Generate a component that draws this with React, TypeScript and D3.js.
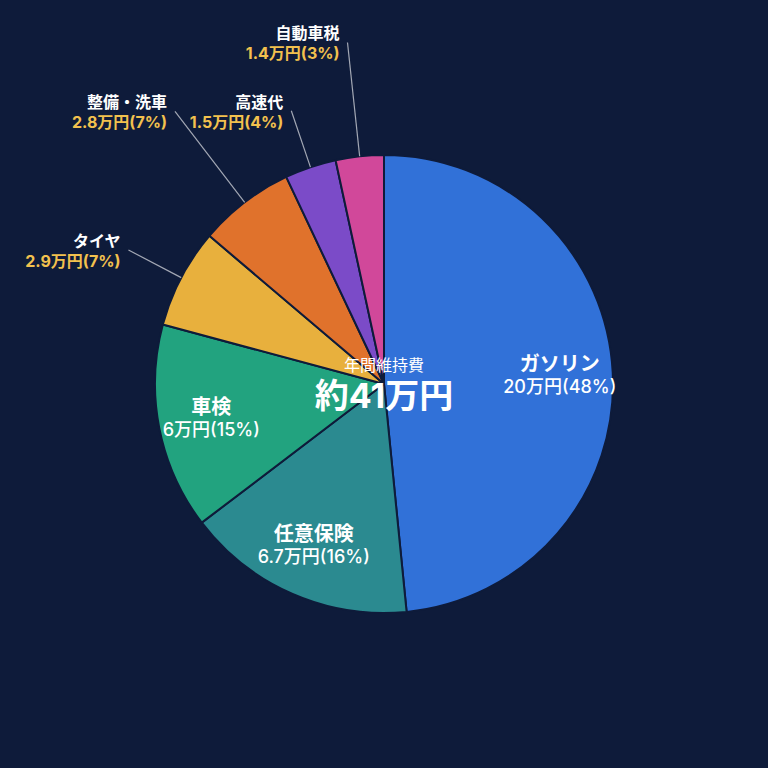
import { useMemo } from "react";
import * as d3 from "d3";

const categories = ["ガソリン", "任意保険", "車検", "タイヤ", "整備・洗車", "高速代", "自動車税"];
const values = [20, 6.7, 6, 2.9, 2.8, 1.5, 1.4];
const valueLabels = ["20万円", "6.7万円", "6万円", "2.9万円", "2.8万円", "1.5万円", "1.4万円"];
const percents = [48, 16, 15, 7, 7, 4, 3];
const colors = ["#3171d8", "#2b8a90", "#22a37f", "#e8b03d", "#e0722c", "#7b4bc8", "#d1489a"];
const totalLabel = "約41万円";
const centerTitle = "年間維持費";

const width = 768;
const height = 768;
const cx = 384;
const cy = 384;
const radius = 229;
const bg = "#0e1b3a";
const font = "Inter, 'Noto Sans CJK JP', sans-serif";

type Slice = { name: string; value: number; label: string; pct: number; color: string; i: number };

export default function App() {
    const data: Slice[] = categories.map((name, i) => ({
        name,
        value: values[i],
        label: valueLabels[i],
        pct: percents[i],
        color: colors[i],
        i,
    }));

    const arcs = useMemo(() => {
        return d3.pie<Slice>().sort(null).value((d) => d.value)(data);
    }, []);

    const arcGen = d3.arc<d3.PieArcDatum<Slice>>().innerRadius(0).outerRadius(radius);

    // big slices get labels inside, small ones outside with leader lines
    const shapes = arcs.map((a, k) => (
        <path key={k} d={arcGen(a) || ""} fill={a.data.color} stroke={bg} strokeWidth={2} strokeLinejoin="round" />
    ));

    const labels = arcs.map((a, k) => {
        const mid = (a.startAngle + a.endAngle) / 2;
        const sx = Math.sin(mid);
        const sy = -Math.cos(mid);
        if (a.data.pct >= 10) {
            const r = 176;
            const x = sx * r;
            const y = sy * r;
            return (
                <g key={k}>
                    <text x={x} y={y - 4} textAnchor="middle" fill="#ffffff" fontSize={20} fontWeight="bold" fontFamily={font}>
                        {a.data.name}
                    </text>
                    <text x={x} y={y + 18} textAnchor="middle" fill="#ffffff" fontSize={18} fontWeight={500} fontFamily={font}>
                        {a.data.label}({a.data.pct}%)
                    </text>
                </g>
            );
        }
        const rOut = a.data.i % 2 === 1 ? radius * 1.26 : radius * 1.5;
        const x0 = sx * radius;
        const y0 = sy * radius;
        const x1 = sx * rOut;
        const y1 = sy * rOut;
        return (
            <g key={k}>
                <line x1={x0} y1={y0} x2={x1} y2={y1} stroke="#a3a8b4" strokeWidth={1.2} />
                <text x={x1 - 8} y={y1 - 3} textAnchor="end" fill="#ffffff" fontSize={16} fontWeight="bold" fontFamily={font}>
                    {a.data.name}
                </text>
                <text x={x1 - 8} y={y1 + 17} textAnchor="end" fill="#f2c14e" fontSize={16} fontWeight="bold" fontFamily={font}>
                    {a.data.label}({a.data.pct}%)
                </text>
            </g>
        );
    });

    return (
        <div style={{ position: "fixed", left: 0, top: 0, width, height, background: bg }}>
            <svg width={width} height={height} style={{ display: "block" }}>
                <rect width={width} height={height} fill={bg} />
                <g transform={`translate(${cx},${cy})`}>
                    {shapes}
                    {labels}
                    <text x={0} y={-13} textAnchor="middle" fill="#ffffff" fontSize={16} fontFamily={font}>
                        {centerTitle}
                    </text>
                    <text x={0} y={24} textAnchor="middle" fill="#ffffff" fontSize={34} fontWeight="bold" fontFamily={font}>
                        {totalLabel}
                    </text>
                </g>
            </svg>
        </div>
    );
}
